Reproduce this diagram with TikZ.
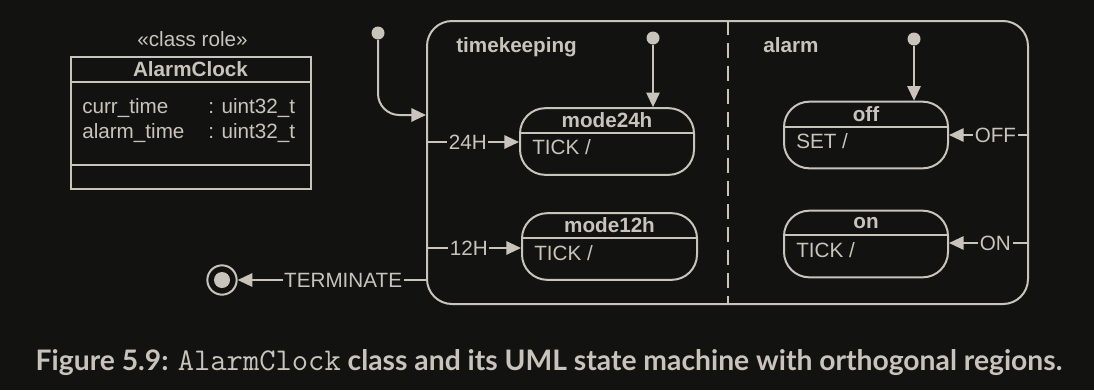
\documentclass[tikz,border=0pt]{standalone}
\usepackage{fontspec}
\setmainfont{Liberation Sans}
\newfontfamily\capfont{Lato}
\newfontfamily\capmono{Latin Modern Mono}[Scale=1.12]
\usetikzlibrary{arrows.meta}
\definecolor{bg}{RGB}{18,18,17}
\definecolor{fg}{RGB}{200,196,188}
\begin{document}
\begin{tikzpicture}[x=0.75pt,y=-0.75pt,
  every node/.style={text=fg,font=\fontsize{15.5}{18}\selectfont},
  line/.style={draw=fg,line width=1.5pt},
  arr/.style={line,-{Triangle[length=11pt,width=10pt]}},
  classbox/.style={line,rectangle,inner sep=0pt,minimum width=180pt,minimum height=99pt},
  statebox/.style={line,rectangle,rounded corners=19pt,inner sep=0pt,minimum height=50pt},
  region/.style={line,rectangle,rounded corners=18.75pt,inner sep=0pt,minimum width=450.75pt,minimum height=212.25pt},
  initdot/.style={circle,fill=fg,inner sep=0pt,minimum size=9.75pt},
  title/.style={font=\fontsize{15.5}{18}\selectfont\bfseries},
  lbl/.style={fill=bg,inner sep=1.2pt},
]
\useasboundingbox (0,0) rectangle (1094,390);
\fill[bg] (0,0) rectangle (1094,390);

% class box
\node (stereo) at (192.5,39) {«class role»};
\node[classbox] (cls) at (190.5,123) {};
\node[title] (clsname) at (190.5,69.5) {AlarmClock};
\draw[line] (cls.west |- 0,82) -- (cls.east |- 0,82);
\draw[line] (cls.west |- 0,165) -- (cls.east |- 0,165);
\node[anchor=base west,inner sep=0pt] (a1) at (82,113) {curr\_time};
\node[anchor=base west,inner sep=0pt] (a1t) at (208,113) {: uint32\_t};
\node[anchor=base west,inner sep=0pt] (a2) at (82,138) {alarm\_time};
\node[anchor=base west,inner sep=0pt] (a2t) at (208,138) {: uint32\_t};

% composite state with two orthogonal regions
\node[region] (main) at (727.5,162.5) {};
\draw[line,dash pattern=on 11.25pt off 6pt] (main.north) -- (main.south);
\node[title,anchor=base west,inner sep=0pt] (tk) at (456,52) {timekeeping};
\node[title,anchor=base west,inner sep=0pt] (al) at (763,52) {alarm};

% timekeeping states
\node[statebox,minimum width=130.5pt] (m24) at (607,141.5) {};
\draw[line] (m24.west |- 0,133) -- (m24.east |- 0,133);
\node[title] (m24n) at (607,120.5) {mode24h};
\node[anchor=base west,inner sep=0pt] (m24a) at (532,154) {TICK /};

\node[statebox,minimum width=131.25pt] (m12) at (609.5,246.5) {};
\draw[line] (m12.west |- 0,238) -- (m12.east |- 0,238);
\node[title] (m12n) at (609.5,225.5) {mode12h};
\node[anchor=base west,inner sep=0pt] (m12a) at (534,260) {TICK /};

% alarm states
\node[statebox,minimum width=123pt] (off) at (866,135) {};
\draw[line] (off.west |- 0,127) -- (off.east |- 0,127);
\node[title] (offn) at (866,114) {off};
\node[anchor=base west,inner sep=0pt] (offa) at (796,148) {SET /};

\node[statebox,minimum width=123pt] (on) at (866,244) {};
\draw[line] (on.west |- 0,235) -- (on.east |- 0,235);
\node[title] (onn) at (866,223) {on};
\node[anchor=base west,inner sep=0pt] (ona) at (796,257) {TICK /};

% pseudostates
\node[initdot] (init1) at (378,33) {};
\node[initdot] (init2) at (653,38) {};
\node[initdot] (init3) at (914,39) {};
\node[circle,draw=fg,line width=1.5pt,inner sep=0pt,minimum size=22pt] (fin) at (222,280) {};
\node[circle,fill=fg,inner sep=0pt,minimum size=12pt] (finc) at (fin) {};

% connection points on the composite state border
\coordinate (entry) at (main.west |- 0,115);
\coordinate (e24) at (main.west |- 0,142);
\coordinate (e12) at (main.west |- 0,248);
\coordinate (eterm) at (main.west |- 0,280);
\coordinate (eoff) at (main.east |- 0,135);
\coordinate (eon) at (main.east |- 0,243);

% transitions
\draw[arr,rounded corners=16pt] (init1) |- (entry);
\draw[arr] (init2) -- (init2 |- m24.north);
\draw[arr] (init3) -- (init3 |- off.north);
\draw[arr] (e24) -- node[lbl,pos=0.45] {24H} (m24.west |- e24);
\draw[arr] (e12) -- node[lbl,pos=0.45] {12H} (m12.west |- e12);
\draw[arr] (eterm) -- node[lbl,pos=0.44] {TERMINATE} (fin);
\draw[arr] (eoff) -- node[lbl,pos=0.42] {OFF} (off.east |- eoff);
\draw[arr] (eon) -- node[lbl,pos=0.42] {ON} (on.east |- eon);

% caption
\node[anchor=base,inner sep=0pt,font=\capfont\bfseries\fontsize{21.2}{25}\selectfont] (cap) at (549,370)
  {Figure 5.9: {\capmono\mdseries AlarmClock} class and its UML state machine with orthogonal regions.};
\end{tikzpicture}
\end{document}
